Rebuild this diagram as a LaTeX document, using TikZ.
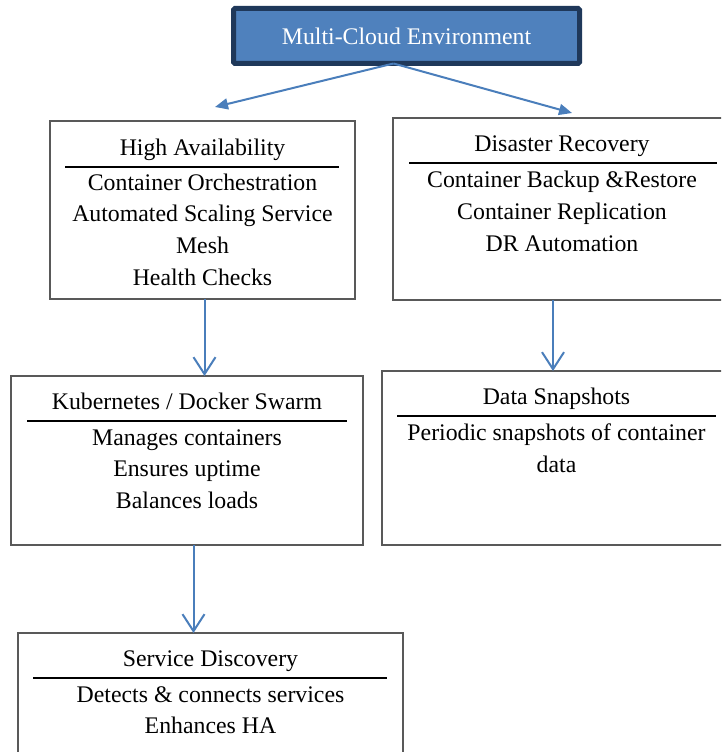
\documentclass[tikz,border=0pt]{standalone}
\usepackage{fontspec}
\setmainfont{Liberation Serif}
\usetikzlibrary{arrows.meta,calc}
\definecolor{boxgray}{RGB}{89,89,89}
\definecolor{topfill}{RGB}{79,129,189}
\definecolor{topdraw}{RGB}{31,56,90}
\definecolor{arrblue}{RGB}{74,126,187}
\begin{document}
\begin{tikzpicture}[x=1pt,y=-1pt,
  box/.style={draw=boxgray,line width=1.2pt,rectangle,inner sep=0pt,outer sep=0pt},
  txt/.style={anchor=base,inner sep=0pt,font=\fontsize{23.8}{28}\selectfont},
  rulel/.style={line width=1.4pt,black},
  fatarrow/.style={draw=arrblue,line width=2pt,-{Triangle[length=13pt,width=11pt]}},
  thinarrow/.style={draw=arrblue,line width=2pt,-{Straight Barb[length=17pt,width=22pt,line width=2pt]}}]
\useasboundingbox (0,0) rectangle (721,752);
\clip (0,0) rectangle (721,752);

% top box
\node[rectangle,draw=topdraw,fill=topfill,line width=5pt,rounded corners=1.5pt,inner sep=0pt,outer sep=0pt,
      minimum width=346pt,minimum height=55pt,text=white,font=\fontsize{23.8}{28}\selectfont] (top) at (406.5,36) {Multi-Cloud Environment};

% High Availability
\node[box,minimum width=305pt,minimum height=178pt] (ha) at (202.5,210) {};
\node[txt] (hat) at (202.5,155) {High Availability};
\draw[rulel] (65,167) -- (339,167);
\node[txt] (ha1) at (202.5,190) {Container Orchestration};
\node[txt] (ha2) at (202.5,221.7) {Automated Scaling Service};
\node[txt] (ha3) at (202.5,253.3) {Mesh};
\node[txt] (ha4) at (202.5,285) {Health Checks};

% Disaster Recovery
\node[box,minimum width=338pt,minimum height=182pt] (dr) at (562,209) {};
\node[txt] (drt) at (562,151.7) {Disaster Recovery};
\draw[rulel] (409,163) -- (717,163);
\node[txt] (dr1) at (562,187) {Container Backup \&Restore};
\node[txt] (dr2) at (562,219) {Container Replication};
\node[txt] (dr3) at (562,251) {DR Automation};

% Kubernetes
\node[box,minimum width=352pt,minimum height=169pt] (kub) at (187,460.5) {};
\node[txt] (kubt) at (187,409) {Kubernetes / Docker Swarm};
\draw[rulel] (27,421) -- (347,421);
\node[txt] (kub1) at (187,445) {Manages containers};
\node[txt] (kub2) at (187,476.7) {Ensures uptime};
\node[txt] (kub3) at (187,508.3) {Balances loads};

% Data Snapshots
\node[box,minimum width=349pt,minimum height=174pt] (ds) at (556.5,458) {};
\node[txt] (dst) at (556.5,404.3) {Data Snapshots};
\draw[rulel] (397,416) -- (716,416);
\node[txt] (ds1) at (556.5,440.7) {Periodic snapshots of container};
\node[txt] (ds2) at (556.5,472) {data};

% Service Discovery
\node[box,minimum width=385pt,minimum height=152pt] (sd) at (210.5,709) {};
\node[txt] (sdt) at (210.5,666) {Service Discovery};
\draw[rulel] (33,678) -- (387,678);
\node[txt] (sd1) at (210.5,702.7) {Detects \& connects services};
\node[txt] (sd2) at (210.5,733.5) {Enhances HA};

% arrows
\draw[fatarrow] ($(top.south)+(-13,0)$) -- ($(ha.north)+(12.5,-14)$);
\draw[fatarrow] ($(top.south)+(-13,0)$) -- ($(dr.north)+(10,-5)$);
\coordinate (xa) at (204.5,0);
\coordinate (xb) at (553,0);
\coordinate (xc) at (193.5,0);
\draw[thinarrow] (ha.south -| xa) -- (kub.north -| xa);
\draw[thinarrow] (dr.south -| xb) -- (ds.north -| xb);
\draw[thinarrow] (kub.south -| xc) -- (sd.north -| xc);
\end{tikzpicture}
\end{document}
